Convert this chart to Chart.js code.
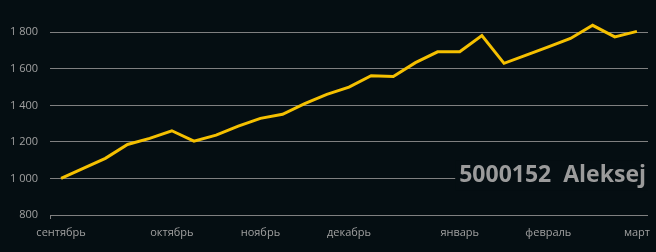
<!DOCTYPE html>
<html>
<head>
<meta charset="utf-8">
<script src="https://cdn.jsdelivr.net/npm/chart.js@4/dist/chart.umd.min.js"></script>
<style>
  html, body { margin: 0; padding: 0; background: #050e12; }
  #wrap { width: 656px; height: 252px; position: relative; }
</style>
</head>
<body>
<div id="wrap"><canvas id="c"></canvas></div>
<script>
// Weekly balance, September through March
const weeks = ['сентябрь', '', '', '', '', 'октябрь', '', '', '', 'ноябрь', '', '', '', 'декабрь',
  '', '', '', '', 'январь', '', '', '', 'февраль', '', '', '', 'март'];
const balance = [1000, 1055, 1110, 1186, 1219, 1261, 1204, 1237, 1286, 1329, 1351, 1409, 1460, 1500,
  1562, 1558, 1634, 1693, 1693, 1782, 1630, 1675, 1720, 1766, 1838, 1775, 1805];
const yTicks = [800, 1000, 1200, 1400, 1600, 1800];
const caption = '5000152  Aleksej';

const BG = '#050e12';

// Caption box over the lower right of the plot, plus the small tick at the axis start
const overlay = {
  id: 'overlay',
  afterDraw(chart) {
    const ctx = chart.ctx;
    const area = chart.chartArea;
    const y = chart.scales.y;
    ctx.save();
    ctx.strokeStyle = '#808080';
    ctx.lineWidth = 1;
    ctx.beginPath();
    ctx.moveTo(area.left + 0.5, area.bottom);
    ctx.lineTo(area.left + 0.5, area.bottom + 4);
    ctx.stroke();

    ctx.font = 'bold 23px "Open Sans"';
    const w = ctx.measureText(caption).width;
    const right = area.right - 2;
    const mid = y.getPixelForValue(1000) - 3;
    ctx.fillStyle = BG;
    ctx.fillRect(right - w - 4, mid - 15, w + 6, 30);
    ctx.fillStyle = '#9b9b9b';
    ctx.textAlign = 'right';
    ctx.textBaseline = 'middle';
    ctx.fillText(caption, right, mid);
    ctx.restore();
  }
};

new Chart(document.getElementById('c'), {
  type: 'line',
  data: {
    labels: weeks,
    datasets: [{
      data: balance,
      borderColor: '#f5c000',
      borderWidth: 3,
      pointRadius: 0,
      tension: 0,
      fill: false
    }]
  },
  options: {
    responsive: true,
    maintainAspectRatio: false,
    animation: false,
    layout: { padding: { left: 4, right: 8, top: 14, bottom: 13 } },
    plugins: { legend: { display: false }, tooltip: { enabled: false } },
    scales: {
      x: {
        offset: true,
        afterFit(scale) {
          scale.height = 24;
          scale.paddingLeft = 0;
          scale.paddingRight = 0;
        },
        grid: { display: false, drawTicks: false },
        border: { display: false },
        ticks: {
          autoSkip: false,
          maxRotation: 0,
          color: '#a0a0a0',
          font: { family: 'Open Sans', size: 11 },
          padding: 11
        }
      },
      y: {
        min: 800,
        max: 1900,
        afterBuildTicks(scale) {
          scale.ticks = yTicks.map(v => ({ value: v }));
        },
        afterFit(scale) {
          scale.width = 46;
          scale.paddingTop = 0;
          scale.paddingBottom = 0;
        },
        grid: { color: '#808080', lineWidth: 1, drawTicks: false },
        border: { display: false },
        ticks: {
          color: '#a0a0a0',
          font: { family: 'Open Sans', size: 11 },
          padding: 12,
          callback: v => String(v).replace(/\B(?=(\d{3})+$)/, ' ')
        }
      }
    }
  },
  plugins: [overlay]
});
</script>
</body>
</html>
